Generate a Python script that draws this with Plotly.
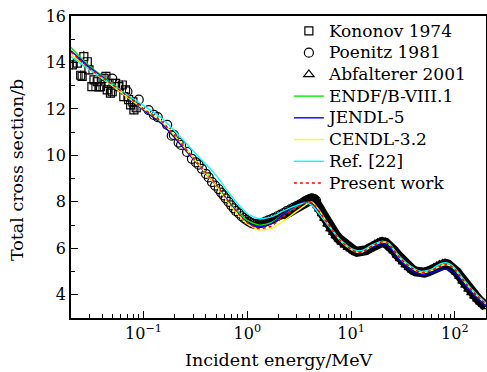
import plotly.graph_objects as go

# ---------------- data ----------------
E_eval = [0.02, 0.03, 0.05, 0.07, 0.1, 0.15, 0.2, 0.3, 0.5, 0.7, 1.0, 1.3, 1.7, 2.2, 3.0, 3.6, 4.2, 5.0, 6.0, 8.0,
          10, 11.5, 13, 16, 20, 23, 30, 40, 48, 60, 70, 80, 90, 100, 130, 160, 200]

present = [14.45, 13.75, 13.05, 12.55, 12.0, 11.45, 10.85, 9.9, 8.75, 7.85, 7.1, 6.85, 6.95, 7.35, 7.75, 7.95, 7.95, 7.55, 7.05, 6.3,
           5.95, 5.82, 5.85, 6.1, 6.28, 6.2, 5.55, 5.1, 4.95, 5.05, 5.2, 5.3, 5.25, 5.1, 4.45, 4.0, 3.6]
ref22 = [14.25, 13.7, 13.05, 12.6, 12.15, 11.6, 11.05, 10.2, 9.15, 8.25, 7.5, 7.27, 7.35, 7.6, 7.85, 7.95, 7.85, 7.45, 7.0, 6.35,
         6.0, 5.9, 5.92, 6.15, 6.3, 6.22, 5.6, 5.15, 5.0, 5.1, 5.3, 5.38, 5.32, 5.15, 4.5, 4.05, 3.65]
endf = [14.65, 13.85, 13.1, 12.55, 11.95, 11.4, 10.8, 9.9, 8.75, 7.9, 7.2, 7.0, 7.1, 7.45, 7.8, 8.0, 7.95, 7.5, 7.0, 6.3,
        5.95, 5.85, 5.88, 6.12, 6.3, 6.2, 5.55, 5.1, 4.95, 5.05, 5.22, 5.3, 5.25, 5.1, 4.45, 4.0, 3.6]
jendl = [14.5, 13.8, 13.05, 12.5, 11.95, 11.35, 10.75, 9.85, 8.7, 7.85, 7.1, 6.92, 7.05, 7.45, 7.85, 8.0, 7.95, 7.5, 7.0, 6.3,
         5.95, 5.85, 5.85, 6.05, 6.2, 6.1, 5.45, 5.0, 4.88, 4.95, 5.05, 5.1, 5.05, 4.95, 4.35, 3.9, 3.5]
cendl = [14.35, 13.7, 13.0, 12.5, 12.0, 11.45, 10.85, 9.9, 8.7, 7.8, 7.05, 6.8, 6.85, 7.15, 7.6, 7.85, 8.0, 7.6, 7.05, 6.3,
         5.95, 5.83, 5.85, 6.1, 6.27, 6.2, 5.55, 5.1, 4.95, 5.05, 5.2, 5.3, 5.25, 5.1, 4.45, 4.0, 3.6]

kon_E = [0.0206, 0.0230, 0.0248, 0.0256, 0.0266, 0.0287, 0.0298, 0.0318, 0.0333, 0.0358, 0.0372, 0.0385, 0.0416, 0.0434,
         0.0447, 0.0465, 0.0480, 0.0499, 0.0538, 0.0579, 0.0624, 0.0646, 0.0671, 0.0720, 0.0751, 0.0790, 0.0808, 0.0850]
kon_v = [13.9, 13.97, 13.45, 13.4, 14.25, 14.03, 13.68, 12.96, 13.25, 13.17, 12.95, 12.96, 13.32, 13.4, 12.82, 13.1, 12.68,
         12.74, 13.1, 12.96, 13.03, 12.53, 12.82, 12.4, 12.17, 12.3, 11.96, 12.05]
kon_err = [0.2, 0.2, 0.2, 0.2, 0.25, 0.2, 0.2, 0.2, 0.2, 0.2, 0.2, 0.2, 0.2, 0.2, 0.2, 0.2, 0.2, 0.2, 0.2, 0.2, 0.2, 0.2,
           0.2, 0.2, 0.2, 0.2, 0.2, 0.2]

poe_E = [0.05, 0.07, 0.09, 0.112, 0.126, 0.137, 0.169, 0.187, 0.196, 0.218, 0.23, 0.263, 0.293, 0.32, 0.34, 0.366, 0.40,
         0.425, 0.457, 0.49, 0.53, 0.56, 0.59, 0.62, 0.66, 0.70, 0.74, 0.78, 0.83, 0.88, 0.93, 0.98, 1.04, 1.10, 1.17,
         1.24, 1.32, 1.40, 1.50, 1.60, 1.70, 1.80, 1.95, 2.10, 2.25, 2.40, 2.60, 2.80, 3.00, 3.20, 3.40, 3.60, 3.80,
         4.00, 4.20, 4.40, 4.60]
poe_v = [13.3, 12.75, 12.4, 11.95, 11.74, 11.65, 11.31, 10.85, 10.88, 10.55, 10.45, 10.15, 9.85, 9.7, 9.6, 9.42, 9.2,
         9.05, 8.85, 8.7, 8.55, 8.4, 8.28, 8.15, 8.0, 7.85, 7.72, 7.6, 7.5, 7.38, 7.3, 7.22, 7.15, 7.08, 7.05,
         7.05, 7.08, 7.1, 7.15, 7.2, 7.25, 7.3, 7.38, 7.45, 7.52, 7.6, 7.68, 7.75, 7.82, 7.88, 7.95, 8.02, 8.08,
         8.12, 8.15, 8.12, 8.05]

abf_E = [2.2, 2.4, 2.6, 2.8, 3.0, 3.2, 3.4, 3.6, 3.8, 4.0, 4.2, 4.4, 4.6, 4.8, 5.0, 5.3, 5.6, 6.0, 6.4, 6.8, 7.2, 7.7,
         8.2, 8.8, 9.4, 10, 10.7, 11.4, 12.2, 13, 14, 15, 16, 17, 18, 19, 20, 21.5, 23, 24.5, 26, 28, 30, 32, 34, 36.5,
         39, 42, 45, 48, 51, 55, 59, 63, 67, 71, 76, 81, 86, 92, 98, 105, 112, 120, 128, 137, 146, 156, 167, 178, 190, 200]
abf_v = [7.4, 7.5, 7.6, 7.7, 7.78, 7.85, 7.92, 8.0, 8.05, 8.1, 8.12, 8.1, 8.0, 7.85, 7.7, 7.5, 7.3, 7.05, 6.85, 6.7,
         6.55, 6.4, 6.28, 6.15, 6.05, 5.98, 5.9, 5.85, 5.84, 5.86, 5.92, 6.0, 6.08, 6.16, 6.22, 6.26, 6.27, 6.24, 6.15,
         6.03, 5.9, 5.72, 5.57, 5.43, 5.3, 5.18, 5.08, 5.0, 4.95, 4.93, 4.95, 5.0, 5.07, 5.15, 5.22, 5.28, 5.32, 5.33,
         5.3, 5.23, 5.12, 4.97, 4.8, 4.6, 4.42, 4.25, 4.1, 3.95, 3.82, 3.7, 3.6, 3.5]

x_tickvals = [0.1, 1, 10, 100]
x_ticktext = ["10<sup>−1</sup>", "10<sup>0</sup>", "10<sup>1</sup>", "10<sup>2</sup>"]
x_minor = [0.02, 0.03, 0.04, 0.05, 0.06, 0.07, 0.08, 0.09, 0.2, 0.3, 0.4, 0.5, 0.6, 0.7, 0.8, 0.9,
           2, 3, 4, 5, 6, 7, 8, 9, 20, 30, 40, 50, 60, 70, 80, 90, 200]

FONT = "DejaVu Serif"


def nm(s):
    return '<span style="font-size:17px">' + s + '</span>'


fig = go.Figure()

# dense experimental bands (drawn behind)
fig.add_trace(go.Scatter(x=abf_E, y=abf_v, mode="lines", line=dict(color="black", width=10),
                         showlegend=False, hoverinfo="skip"))
fig.add_trace(go.Scatter(x=poe_E[30:], y=poe_v[30:], mode="lines", line=dict(color="black", width=5),
                         showlegend=False, hoverinfo="skip"))

fig.add_trace(go.Scatter(x=kon_E, y=kon_v, mode="markers", name=nm("Kononov 1974"),
                         marker=dict(symbol="square-open", size=8, color="black", line=dict(width=1.2)),
                         error_y=dict(type="data", array=kon_err, color="black", thickness=1, width=0)))
fig.add_trace(go.Scatter(x=poe_E, y=poe_v, mode="markers", name=nm("Poenitz 1981"),
                         marker=dict(symbol="circle-open", size=9, color="black", line=dict(width=1.2))))
fig.add_trace(go.Scatter(x=abf_E, y=abf_v, mode="markers", name=nm("Abfalterer 2001"),
                         marker=dict(symbol="triangle-up-open", size=9, color="black", line=dict(width=1.2))))

sm = 0.6
fig.add_trace(go.Scatter(x=E_eval, y=endf, mode="lines", name=nm("ENDF/B-VIII.1"),
                         line=dict(color="#00ee00", width=1.4, shape="spline", smoothing=sm)))
fig.add_trace(go.Scatter(x=E_eval, y=jendl, mode="lines", name=nm("JENDL-5"),
                         line=dict(color="#0000ff", width=1.4, shape="spline", smoothing=sm)))
fig.add_trace(go.Scatter(x=E_eval, y=cendl, mode="lines", name=nm("CENDL-3.2"),
                         line=dict(color="#ffff00", width=1.4, shape="spline", smoothing=sm)))
fig.add_trace(go.Scatter(x=E_eval, y=ref22, mode="lines", name=nm("Ref. [22]"),
                         line=dict(color="#00ffff", width=1.4, shape="spline", smoothing=sm)))
fig.add_trace(go.Scatter(x=E_eval, y=present, mode="lines", name=nm("Present work"),
                         line=dict(color="#ff0000", width=1.6, dash="dot", shape="spline", smoothing=sm)))

fig.update_layout(
    width=487, height=372,
    margin=dict(l=71, r=1, t=16, b=54, autoexpand=False),
    paper_bgcolor="white", plot_bgcolor="white",
    font=dict(family=FONT, size=16, color="black"),
    showlegend=True,
    legend=dict(x=0.525, y=1.003, xanchor="left", yanchor="top", bgcolor="rgba(0,0,0,0)",
                font=dict(family=FONT, size=14.4, color="black"), tracegroupgap=0),
    xaxis=dict(type="log", range=[-1.699, 2.301], automargin=False,
               tickvals=x_tickvals, ticktext=x_ticktext,
               ticks="inside", ticklen=7, tickwidth=1.2, tickcolor="black",
               minor=dict(ticks="inside", ticklen=4, tickwidth=1, tickcolor="black",
                          tickvals=x_minor, showgrid=False),
               showline=True, linecolor="black", linewidth=1.5, mirror=True,
               showgrid=False, zeroline=False),
    yaxis=dict(range=[3, 16], tick0=0, dtick=2, automargin=False,
               ticks="inside", ticklen=7, tickwidth=1.2, tickcolor="black",
               minor=dict(ticks="inside", ticklen=4, tickwidth=1, tickcolor="black", dtick=1, tick0=1,
                          showgrid=False),
               showline=True, linecolor="black", linewidth=1.5, mirror=True,
               showgrid=False, zeroline=False),
    annotations=[
        dict(text="Incident energy/MeV", xref="paper", yref="paper", x=0.5, y=-0.139,
             xanchor="center", yanchor="middle", showarrow=False, font=dict(family=FONT, size=17.5)),
        dict(text="Total cross section/b", xref="paper", yref="paper", x=-0.13, y=0.49,
             xanchor="center", yanchor="middle", textangle=-90, showarrow=False,
             font=dict(family=FONT, size=17.5)),
    ],
)

fig.write_html("out.html", config={"displayModeBar": False},
               post_script="document.body.style.margin='0';document.body.style.padding='0';")
